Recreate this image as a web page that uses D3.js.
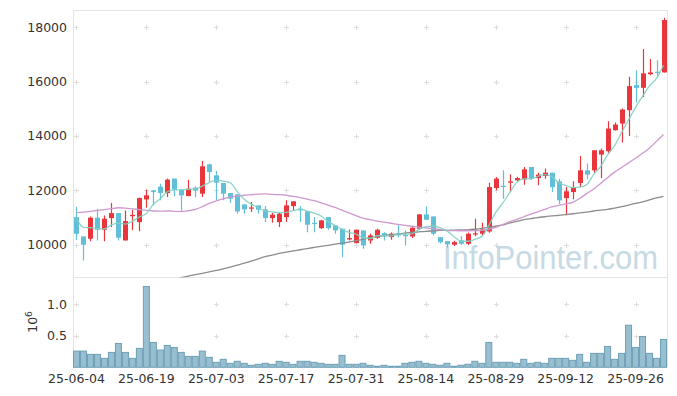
<!DOCTYPE html>
<html><head><meta charset="utf-8">
<script src="https://cdn.jsdelivr.net/npm/d3@7"></script>
<style>body{margin:0;background:#fff;} svg text{font-family:"DejaVu Sans",sans-serif;}</style>
</head><body><svg id="c" width="677" height="396"></svg>
<script>
const dates = ["25-06-04","25-06-05","25-06-09","25-06-10","25-06-11","25-06-12","25-06-13","25-06-16","25-06-17","25-06-18",
"25-06-19","25-06-20","25-06-23","25-06-24","25-06-25","25-06-26","25-06-27","25-06-30","25-07-01","25-07-02",
"25-07-03","25-07-04","25-07-07","25-07-08","25-07-09","25-07-10","25-07-11","25-07-14","25-07-15","25-07-16",
"25-07-17","25-07-18","25-07-21","25-07-22","25-07-23","25-07-24","25-07-25","25-07-28","25-07-29","25-07-30",
"25-07-31","25-08-01","25-08-04","25-08-05","25-08-06","25-08-07","25-08-08","25-08-11","25-08-12","25-08-13",
"25-08-14","25-08-18","25-08-19","25-08-20","25-08-21","25-08-22","25-08-25","25-08-26","25-08-27","25-08-28",
"25-08-29","25-09-01","25-09-02","25-09-03","25-09-04","25-09-05","25-09-08","25-09-09","25-09-10","25-09-11",
"25-09-12","25-09-15","25-09-16","25-09-17","25-09-18","25-09-19","25-09-22","25-09-23","25-09-24","25-09-25",
"25-09-26","25-09-29","25-09-30","25-10-01","25-10-02"];
const openP = [11016,10306,10221,10994,10552,10980,11164,10158,11050,10832,
11668,12000,12136,11900,12431,12026,11790,12099,11878,12957,
12552,12269,11900,11853,11484,11330,11447,11300,10980,10832,
11016,11422,11326,11226,10810,10611,11016,10711,10590,10195,
10059,10527,10158,10258,10427,10280,10405,10360,10306,10590,
11116,11042,10280,10133,10000,10158,10037,10380,10405,10490,
12085,12170,12283,12368,12405,12858,12453,12527,12650,12331,
11716,11937,12269,12736,12736,13315,13436,14210,14456,14947,
15868,15770,16272,16360,16335];
const highP = [11385,10306,11042,11326,11079,11532,11164,11263,11290,11740,
12026,12000,12247,12431,12431,12026,12394,12140,13079,12980,
12711,12269,11900,11853,11484,11569,11447,11422,11179,11170,
11632,11595,11422,11226,11016,10920,11016,10711,10590,10563,
10563,10527,10405,10590,10464,10450,10750,10527,10640,11130,
11410,11042,10280,10133,10150,10317,10450,10957,10810,12283,
12490,12736,12578,12500,12858,12858,12650,12800,12650,12430,
12121,12331,13263,12983,13473,13536,14541,14493,15009,16174,
16419,17193,16825,16780,18345];
const lowP = [10184,9422,10133,10158,10133,10648,10158,10158,10530,10500,
11363,11447,11632,11753,11779,11226,11779,11750,11753,12305,
11632,11632,11532,11142,11142,11200,11142,10832,10810,10648,
10832,11263,10832,10464,10464,10580,10550,10405,9543,10158,
10059,9853,10037,10221,10158,10185,10280,9974,10250,10550,
10920,10343,10050,9900,9950,9990,9990,10317,10343,10440,
12000,11694,11937,12330,12210,12380,12184,12430,11937,11500,
11080,11669,12121,12405,12650,12453,13350,14200,13757,14000,
15230,15436,16230,16175,16335];
const closeP = [10405,10000,10994,10552,10958,11164,10258,10869,11100,11716,
11816,11937,11900,12394,12026,11816,12062,11990,12884,12674,
12283,11878,11694,11226,11300,11370,11290,10980,11105,11142,
11447,11595,11263,10737,10790,10895,10611,10527,10000,10243,
10552,9974,10343,10552,10306,10405,10343,10330,10626,11116,
10920,10405,10096,10011,10096,10037,10405,10420,10563,12121,
12431,12130,12330,12453,12773,12431,12578,12650,12121,11632,
11963,12121,12736,12578,13473,13473,14272,14419,14972,15831,
15770,16300,16335,16330,18261];
const prevCloses = [11660,11044,10682,11049];
const volumeM = [0.257,0.257,0.205,0.205,0.142,0.236,0.378,0.236,0.142,0.300,
1.282,0.394,0.273,0.347,0.315,0.236,0.173,0.173,0.257,0.158,
0.079,0.126,0.063,0.095,0.063,0.032,0.047,0.063,0.047,0.095,
0.079,0.047,0.095,0.095,0.079,0.063,0.047,0.047,0.189,0.047,
0.047,0.063,0.032,0.016,0.032,0.016,0.016,0.063,0.079,0.095,
0.063,0.047,0.032,0.063,0.016,0.032,0.047,0.095,0.063,0.394,
0.079,0.079,0.079,0.063,0.126,0.063,0.079,0.063,0.142,0.142,
0.142,0.110,0.205,0.079,0.221,0.221,0.331,0.126,0.221,0.667,
0.315,0.489,0.221,0.142,0.442];
const ma20 = [11180,11200,11230,11260,11290,11330,11360,11350,11320,11290,
11260,11240,11235,11240,11230,11220,11250,11300,11400,11520,
11610,11690,11750,11790,11820,11840,11860,11870,11850,11840,
11820,11780,11730,11680,11620,11540,11460,11370,11270,11170,
11070,10980,10920,10870,10830,10790,10750,10710,10680,10650,
10620,10590,10560,10530,10520,10515,10515,10520,10530,10570,
10640,10740,10850,10930,11030,11130,11210,11300,11390,11450,
11500,11560,11700,11880,12050,12250,12470,12670,12840,13010,
13180,13360,13560,13800,14050];
const ma60 = [null,null,null,null,null,null,null,null,null,null,
null,null,null,null,8700,8790,8850,8900,8950,9000,
9054,9110,9180,9250,9320,9400,9480,9560,9620,9680,
9730,9775,9816,9860,9900,9940,9980,10020,10060,10100,
10150,10200,10260,10300,10340,10370,10400,10430,10455,10475,
10495,10510,10525,10530,10540,10545,10550,10570,10600,10640,
10680,10730,10800,10860,10920,10960,11000,11030,11060,11080,
11110,11140,11170,11200,11240,11270,11300,11350,11400,11460,
11520,11580,11650,11720,11780];
const priceTicks = [10000,12000,14000,16000,18000];
const volTicks = [0.5,1.0];
const xTickIdx = [0,10,20,30,40,50,60,70,80];

const UP = "#e8363c", DOWN = "#62bfd8";
const L = 73, R = 667, T = 10, MID = 277.5, B = 367.3;
const svg = d3.select("#c");
const n = closeP.length;
const idx = d3.range(n);
const x = d3.scaleBand().domain(idx).range([L, R]).padding(0);
const cx = i => x(i) + x.bandwidth()/2;
const y = d3.scaleLinear().domain([8796, 18630]).range([MID, T]);
const yv = d3.scaleLinear().domain([0, 1.424]).range([B, MID]);

const allC = prevCloses.concat(closeP);
const ma5 = idx.map(i => d3.mean(allC.slice(i, i + 5)));

svg.append("defs").append("clipPath").attr("id","pc").append("rect")
  .attr("x", L).attr("y", T).attr("width", R - L).attr("height", MID - T);

// frame
const frame = svg.append("g").attr("stroke","#e3e3e3").attr("stroke-width",1).attr("fill","none");
frame.append("line").attr("x1",L+0.5).attr("x2",L+0.5).attr("y1",T).attr("y2",B);
frame.append("line").attr("x1",R+0.5).attr("x2",R+0.5).attr("y1",T).attr("y2",B);
frame.append("line").attr("x1",L).attr("x2",R).attr("y1",T+0.5).attr("y2",T+0.5);
frame.append("line").attr("x1",L).attr("x2",R).attr("y1",MID).attr("y2",MID);

// grid crosses
const crosses = [];
xTickIdx.forEach(i => { priceTicks.forEach(p => crosses.push([cx(i), y(p)])); volTicks.forEach(v => crosses.push([cx(i), yv(v)])); });
const cg = svg.append("g").attr("stroke","#dcdcdc").attr("stroke-width",1);
crosses.forEach(([a,b]) => {
  const xa = Math.round(a)+0.5, yb = Math.round(b)+0.5;
  cg.append("line").attr("x1",xa-2.5).attr("x2",xa+2.5).attr("y1",yb).attr("y2",yb);
  cg.append("line").attr("x1",xa).attr("x2",xa).attr("y1",yb-2.5).attr("y2",yb+2.5);
});

// watermark
svg.append("text").attr("transform","translate(443,269) scale(0.91,1)")
  .attr("font-size",34).attr("fill","#c6dae5").style("font-family","Liberation Sans, sans-serif")
  .text("InfoPointer.com");

// volume bars
svg.append("g").selectAll("rect").data(idx).join("rect")
  .attr("x", i => x(i) + 0.5).attr("width", x.bandwidth() - 1)
  .attr("y", i => yv(volumeM[i])).attr("height", i => B - yv(volumeM[i]))
  .attr("fill","#98bfcf").attr("stroke","#6d9fb7").attr("stroke-width",1);

// candles
const cgp = svg.append("g").attr("clip-path","url(#pc)");
const cand = cgp.selectAll("g").data(idx).join("g");
cand.append("line")
  .attr("x1", i => Math.round(cx(i)) + 0.5).attr("x2", i => Math.round(cx(i)) + 0.5)
  .attr("y1", i => y(highP[i])).attr("y2", i => y(lowP[i]))
  .attr("stroke", i => closeP[i] >= openP[i] ? UP : DOWN).attr("stroke-width",1.2);
cand.append("rect")
  .attr("x", i => Math.round(cx(i)) + 0.5 - 2.5).attr("width", 5)
  .attr("y", i => y(Math.max(openP[i], closeP[i])))
  .attr("height", i => Math.max(1.2, Math.abs(y(openP[i]) - y(closeP[i]))))
  .attr("fill", i => closeP[i] >= openP[i] ? UP : DOWN);

// moving averages
const line = arr => d3.line().defined(i => arr[i] != null).x(cx).y(i => y(arr[i])).curve(d3.curveMonotoneX)(idx);
const mg = svg.append("g").attr("clip-path","url(#pc)").attr("fill","none");
mg.append("path").attr("d", line(ma60)).attr("stroke","#8c8c8c").attr("stroke-width",1.3);
mg.append("path").attr("d", line(ma20)).attr("stroke","#cf98cf").attr("stroke-width",1.3);
mg.append("path").attr("d", line(ma5)).attr("stroke","#82cfc2").attr("stroke-width",1.3).attr("opacity",0.9);

// axes
const fs = 12.5;
const ay = svg.append("g").attr("transform",`translate(${L-3},0)`)
  .call(d3.axisLeft(y).tickValues(priceTicks).tickSize(0).tickPadding(3).tickFormat(d3.format("d")));
const av = svg.append("g").attr("transform",`translate(${L-3},0)`)
  .call(d3.axisLeft(yv).tickValues(volTicks).tickSize(0).tickPadding(3).tickFormat(d3.format(".1f")));
const ax = svg.append("g").attr("transform",`translate(0,${B})`)
  .call(d3.axisBottom(x).tickValues(xTickIdx).tickSize(0).tickPadding(7).tickFormat(i => dates[i]));
[ay, av, ax].forEach(g => {
  g.select(".domain").remove();
  g.selectAll("text").attr("font-size", fs).attr("fill","#333").style("font-family","DejaVu Sans, sans-serif");
});

// 10^6 label
const lab = svg.append("text").attr("transform","translate(37,322) rotate(-90)")
  .attr("text-anchor","middle").attr("font-size",fs).attr("fill","#333");
lab.append("tspan").text("10");
lab.append("tspan").attr("dy",-5).attr("font-size",9).text("6");
</script></body></html>
